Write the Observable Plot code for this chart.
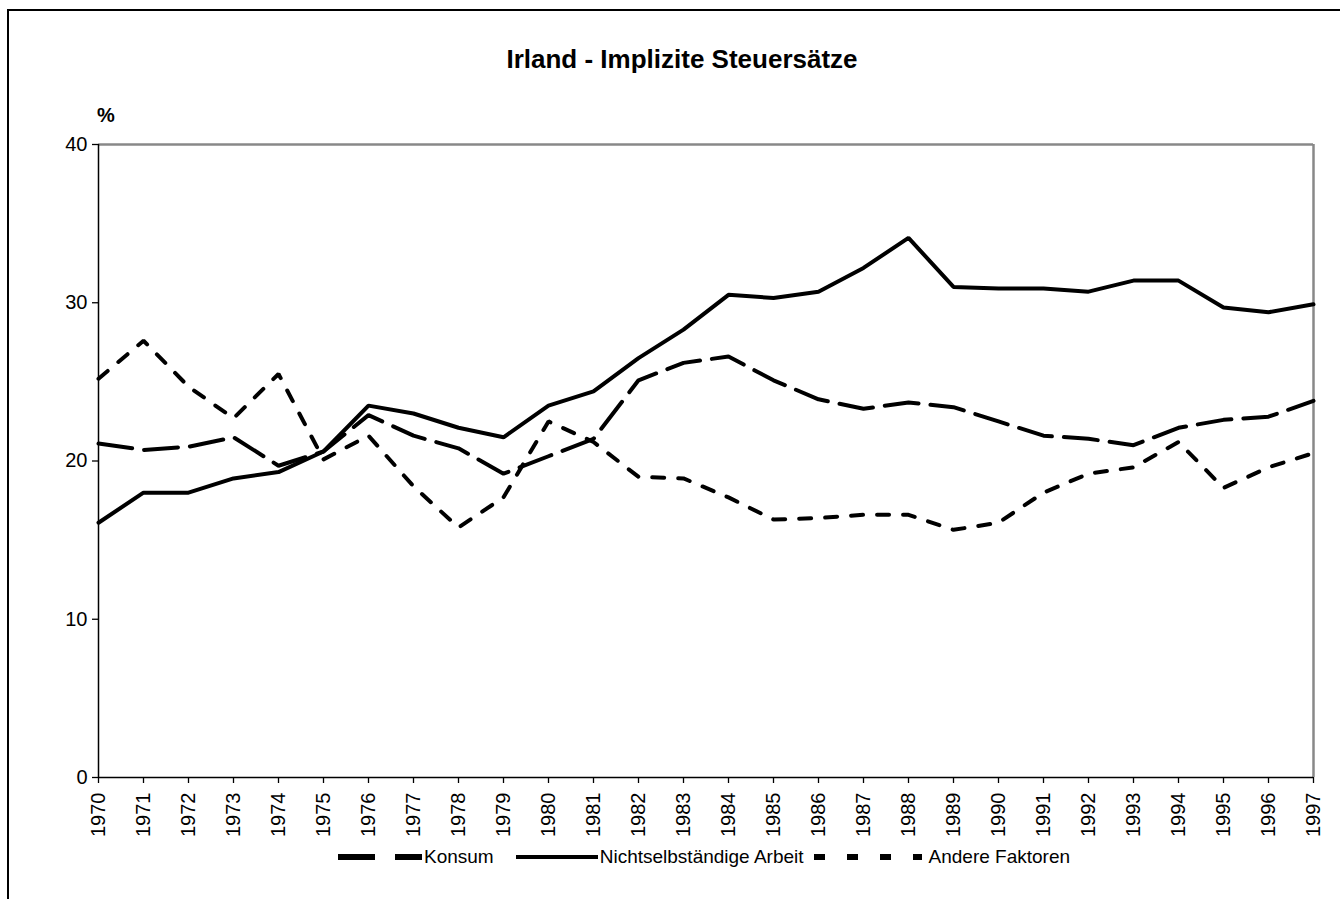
<!DOCTYPE html>
<html>
<head>
<meta charset="utf-8">
<script src="https://cdn.jsdelivr.net/npm/d3@7"></script>
<script src="https://cdn.jsdelivr.net/npm/@observablehq/plot@0.6"></script>
<style>
  html, body { margin: 0; padding: 0; background: #fff; overflow: hidden; width: 1340px; height: 899px; }
  body { position: relative; font-family: "Liberation Sans", Arial, sans-serif; color: #000; }
  #frame { position: absolute; left: 7px; top: 9px; width: 2000px; height: 2000px; border: 2px solid #000; box-sizing: border-box; }
  #title { position: absolute; left: 0; width: 1364px; top: 44px; text-align: center; font-weight: bold; font-size: 26px; }
  #pct { position: absolute; left: 97px; top: 104px; font-weight: bold; font-size: 20px; }
  #chart { position: absolute; left: 0; top: 0; }
  #legend { position: absolute; top: 846px; left: 338px; display: flex; align-items: center; font-size: 19px; white-space: nowrap; }
  #legend .item { display: flex; align-items: center; }
  #legend svg { display: block; }
</style>
</head>
<body>
<div id="frame"></div>
<div id="chart"></div>
<div id="title">Irland - Implizite Steuersätze</div>
<div id="pct">%</div>
<div id="legend"></div>
<script>
const years = [1970,1971,1972,1973,1974,1975,1976,1977,1978,1979,1980,1981,1982,1983,1984,1985,1986,1987,1988,1989,1990,1991,1992,1993,1994,1995,1996,1997];
const konsum = [21.1,20.7,20.9,21.5,19.7,20.6,22.9,21.6,20.8,19.2,20.3,21.4,25.1,26.2,26.6,25.1,23.9,23.3,23.7,23.4,22.5,21.6,21.4,21.0,22.1,22.6,22.8,23.8];
const arbeit = [16.1,18.0,18.0,18.9,19.3,20.6,23.5,23.0,22.1,21.5,23.5,24.4,26.5,28.3,30.5,30.3,30.7,32.2,34.1,31.0,30.9,30.9,30.7,31.4,31.4,29.7,29.4,29.9];
const andere = [25.2,27.6,24.7,22.7,25.5,20.1,21.6,18.4,15.8,17.7,22.5,21.2,19.0,18.9,17.7,16.3,16.4,16.6,16.6,15.65,16.1,18.0,19.2,19.6,21.2,18.3,19.6,20.5];
const yTicks = [0,10,20,30,40];
const seriesNames = ["Konsum","Nichtselbständige Arbeit","Andere Faktoren"];
const dashes = ["34,12", null, "12,14"];

const seriesVals = [konsum, arbeit, andere];
const toRows = vals => years.map((yr, i) => ({year: yr, v: vals[i]}));

const chart = Plot.plot({
  width: 1340,
  height: 899,
  marginLeft: 98,
  marginRight: 27,
  marginTop: 144,
  marginBottom: 122,
  style: {fontFamily: "'Liberation Sans', Arial, sans-serif", fontSize: "20px", color: "#000", background: "transparent", overflow: "visible"},
  x: {domain: [years[0], years[years.length-1]]},
  y: {domain: [yTicks[0], yTicks[yTicks.length-1]]},
  marks: [
    Plot.ruleY([yTicks[yTicks.length-1]], {stroke: "#888", strokeWidth: 2.5}),
    Plot.ruleX([years[years.length-1]], {stroke: "#888", strokeWidth: 2.5}),
    Plot.ruleY([yTicks[0]], {stroke: "#000", strokeWidth: 1.5}),
    Plot.ruleX([years[0]], {stroke: "#000", strokeWidth: 1.5}),
    Plot.axisY({ticks: yTicks, tickSize: 6, tickPadding: 5, fontSize: 20, label: null, stroke: "#000", strokeWidth: 1.3}),
    Plot.axisX({ticks: years, tickFormat: d => String(d), tickRotate: -90, tickSize: 6, tickPadding: 9, fontSize: 20, label: null, stroke: "#000", strokeWidth: 1.3}),
    ...seriesVals.map((vals, i) => Plot.line(toRows(vals), {
      x: "year", y: "v", stroke: "#000", strokeWidth: 4,
      strokeDasharray: dashes[i] || undefined, strokeLinejoin: "miter"
    }))
  ]
});
document.getElementById("chart").appendChild(chart);

// legend
const legend = document.getElementById("legend");
const sampleW = [84, 82, 108];
const gaps = [2, 2, 7];
const afterGap = [22, 10, 0];
seriesNames.forEach((name, i) => {
  const item = document.createElement("div");
  item.className = "item";
  item.style.marginRight = afterGap[i] + "px";
  const svg = d3.create("svg").attr("width", sampleW[i]).attr("height", 12);
  svg.append("line").attr("x1", 0).attr("x2", sampleW[i]).attr("y1", 6).attr("y2", 6)
    .attr("stroke", "#000").attr("stroke-width", i === 1 ? 4 : 6)
    .attr("stroke-dasharray", dashes[i] ? (i === 0 ? "37,20" : "11,22") : null)
    .attr("stroke-linecap", i === 1 ? "round" : "butt");
  item.appendChild(svg.node());
  const t = document.createElement("span");
  t.textContent = name;
  t.style.marginLeft = gaps[i] + "px";
  item.appendChild(t);
  legend.appendChild(item);
});
</script>
</body>
</html>
